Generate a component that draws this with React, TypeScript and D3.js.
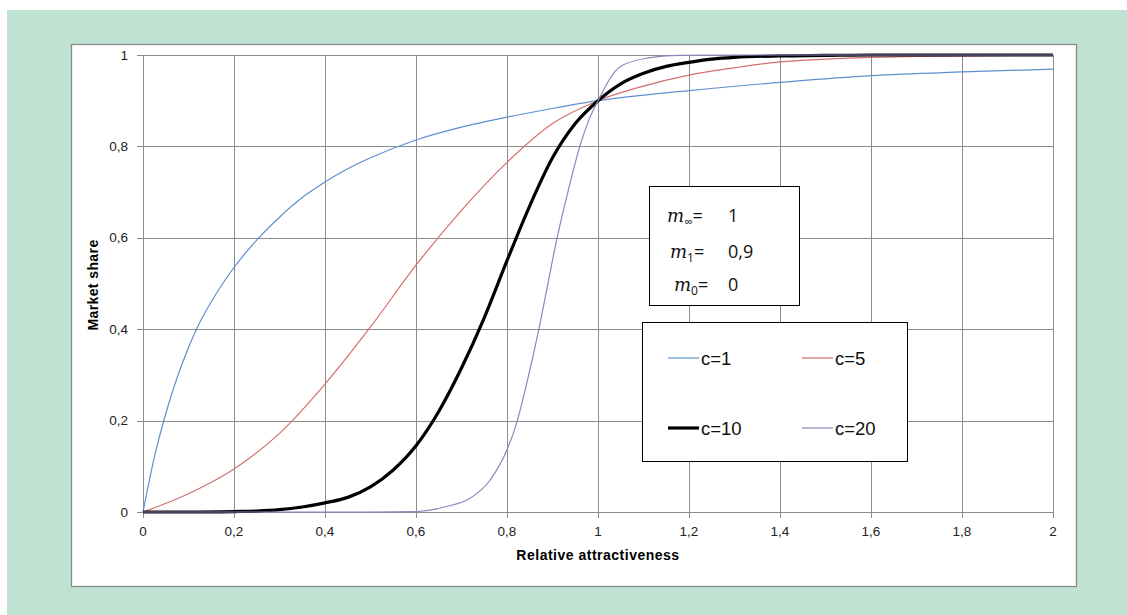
import React, { useEffect, useRef } from "react";
import * as d3 from "d3";

// axis ticks
const xTickValues = [0, 0.2, 0.4, 0.6, 0.8, 1, 1.2, 1.4, 1.6, 1.8, 2];
const xTickLabels = ["0", "0,2", "0,4", "0,6", "0,8", "1", "1,2", "1,4", "1,6", "1,8", "2"];
const yTickValues = [0, 0.2, 0.4, 0.6, 0.8, 1];
const yTickLabels = ["0", "0,2", "0,4", "0,6", "0,8", "1"];

// series
const c1X = [0, 0.025, 0.05, 0.1, 0.125, 0.15, 0.2, 0.25, 0.3, 0.35, 0.4, 0.45, 0.5, 0.6, 0.7, 0.8, 0.9, 1.0, 1.2, 1.4, 1.6, 1.8, 2.0];
const c1Y = [0, 0.12, 0.215, 0.36, 0.415, 0.46, 0.535, 0.595, 0.645, 0.688, 0.722, 0.751, 0.775, 0.814, 0.842, 0.864, 0.883, 0.9, 0.922, 0.94, 0.955, 0.963, 0.969];

const c5X = [0, 0.1, 0.2, 0.3, 0.4, 0.5, 0.6, 0.7, 0.8, 0.9, 1.0, 1.1, 1.2, 1.3, 1.4, 1.5, 1.6, 1.7, 2.0];
const c5Y = [0, 0.04, 0.094, 0.172, 0.28, 0.405, 0.54, 0.66, 0.765, 0.85, 0.9, 0.932, 0.956, 0.972, 0.985, 0.991, 0.995, 0.997, 1.0];

const c10X = [0, 0.1, 0.2, 0.25, 0.3, 0.35, 0.4, 0.45, 0.5, 0.55, 0.6, 0.65, 0.7, 0.75, 0.8, 0.85, 0.9, 0.95, 1.0, 1.05, 1.1, 1.15, 1.2, 1.25, 1.3, 1.4, 1.5, 1.6, 2.0];
const c10Y = [0, 0, 0.001, 0.002, 0.005, 0.011, 0.02, 0.032, 0.055, 0.092, 0.145, 0.22, 0.315, 0.425, 0.55, 0.67, 0.775, 0.85, 0.9, 0.937, 0.96, 0.975, 0.984, 0.991, 0.995, 0.998, 0.999, 1, 1];

const c20X = [0, 0.5, 0.6, 0.667, 0.719, 0.763, 0.8, 0.821, 0.843, 0.869, 0.889, 0.909, 0.935, 0.96, 0.98, 1.0, 1.048, 1.107, 1.18, 1.3, 2.0];
const c20Y = [0, 0, 0.001, 0.012, 0.03, 0.07, 0.136, 0.194, 0.28, 0.395, 0.495, 0.595, 0.705, 0.8, 0.858, 0.9, 0.974, 0.993, 0.999, 1, 1];

const seriesNames = ["c=1", "c=5", "c=10", "c=20"];

const W = 1127, H = 615;

export default function App() {
  const ref = useRef<SVGSVGElement>(null);

  useEffect(() => {
    const svg = d3.select(ref.current);
    svg.selectAll("*").remove();

    const x = d3.scaleLinear().domain([0, 2]).range([143, 1053]);
    const y = d3.scaleLinear().domain([0, 1]).range([512, 55]);

    // backgrounds
    svg.append("rect").attr("x", 7).attr("y", 10).attr("width", W - 7).attr("height", H - 10).attr("fill", "#c0e2d2");
    svg.append("rect").attr("x", 71.5).attr("y", 44.5).attr("width", 1005).attr("height", 542)
      .attr("fill", "#fff").attr("stroke", "#8a8a8a").attr("stroke-width", 1.3);

    // grid
    const grid = svg.append("g").attr("stroke", "#8c8c8c").attr("stroke-width", 1).attr("shape-rendering", "crispEdges");
    grid.selectAll(".vx").data(xTickValues).enter().append("line")
      .attr("x1", d => Math.round(x(d)) + 0.5).attr("x2", d => Math.round(x(d)) + 0.5)
      .attr("y1", y(1)).attr("y2", y(0) + 6);
    grid.selectAll(".hy").data(yTickValues).enter().append("line")
      .attr("y1", d => Math.round(y(d)) + 0.5).attr("y2", d => Math.round(y(d)) + 0.5)
      .attr("x1", x(0) - 6).attr("x2", x(2));

    // tick labels
    const font = "'Liberation Sans', Arial, sans-serif";
    svg.append("g").selectAll("text").data(xTickValues).enter().append("text")
      .attr("x", d => x(d)).attr("y", 536).attr("text-anchor", "middle")
      .attr("font-family", font).attr("font-size", 13.5).attr("fill", "#222")
      .text((d, i) => xTickLabels[i]);
    svg.append("g").selectAll("text").data(yTickValues).enter().append("text")
      .attr("x", 128).attr("y", d => y(d) + 4.5).attr("text-anchor", "end")
      .attr("font-family", font).attr("font-size", 13.5).attr("fill", "#222")
      .text((d, i) => yTickLabels[i]);

    // axis titles
    svg.append("text").attr("x", 598).attr("y", 560).attr("text-anchor", "middle")
      .attr("font-family", font).attr("font-size", 14).attr("font-weight", "bold").attr("letter-spacing", 0.5)
      .text("Relative attractiveness");
    svg.append("text").attr("transform", "translate(98,285) rotate(-90)").attr("text-anchor", "middle")
      .attr("font-family", font).attr("font-size", 14).attr("font-weight", "bold").attr("letter-spacing", 0.4)
      .text("Market share");

    // curves
    const line = d3.line<[number, number]>().x(d => x(d[0])).y(d => y(d[1])).curve(d3.curveMonotoneX);
    const series = [
      { xs: c1X, ys: c1Y, color: "#5f8fd0", w: 1.2 },
      { xs: c5X, ys: c5Y, color: "#d36f6d", w: 1.2 },
      { xs: c10X, ys: c10Y, color: "#000", w: 3.2 },
      { xs: c20X, ys: c20Y, color: "#9680bc", w: 1.2 },
    ];
    series.forEach(s => {
      svg.append("path")
        .datum(s.xs.map((v, i) => [v, s.ys[i]] as [number, number]))
        .attr("d", line).attr("fill", "none")
        .attr("stroke", s.color).attr("stroke-width", s.w).attr("stroke-linejoin", "round");
    });

    // parameter box
    const pb = svg.append("g");
    pb.append("rect").attr("x", 649.5).attr("y", 186.5).attr("width", 150).attr("height", 119)
      .attr("fill", "#fff").attr("stroke", "#000").attr("stroke-width", 1);
    const params = [
      { sub: "\u221e", val: "1", xm: 667, yb: 222 },
      { sub: "1", val: "0,9", xm: 670, yb: 258 },
      { sub: "0", val: "0", xm: 674, yb: 291 },
    ];
    params.forEach(p => {
      const t = pb.append("text").attr("x", p.xm).attr("y", p.yb)
        .attr("font-family", "'Open Sans', 'Noto Sans', sans-serif").attr("font-size", 18).attr("fill", "#111");
      t.append("tspan").attr("font-style", "italic").attr("font-family", "'DejaVu Serif', serif").attr("font-size", 18).text("m");
      t.append("tspan").attr("font-size", 12).attr("dy", 4).text(p.sub);
      t.append("tspan").attr("dy", -4).text("=");
      pb.append("text").attr("x", 728).attr("y", p.yb)
        .attr("font-family", "'Open Sans', 'Noto Sans', sans-serif").attr("font-size", 18).attr("fill", "#111")
        .text(p.val);
    });

    // legend
    const lg = svg.append("g");
    lg.append("rect").attr("x", 642.5).attr("y", 322.5).attr("width", 265).attr("height", 139)
      .attr("fill", "#fff").attr("stroke", "#000").attr("stroke-width", 1);
    const pos = [[668, 358], [802, 358], [668, 428], [802, 428]];
    seriesNames.forEach((n, i) => {
      const [lx, ly] = pos[i];
      lg.append("line").attr("x1", lx).attr("x2", lx + 31).attr("y1", ly).attr("y2", ly)
        .attr("stroke", series[i].color).attr("stroke-width", series[i].w);
      lg.append("text").attr("x", lx + 33).attr("y", ly + 7)
        .attr("font-family", font).attr("font-size", 18.5).attr("fill", "#111").text(n);
    });
  }, []);

  return (
    <svg ref={ref} width={W} height={H} style={{ position: "absolute", left: 0, top: 0, background: "#fff" }} />
  );
}
